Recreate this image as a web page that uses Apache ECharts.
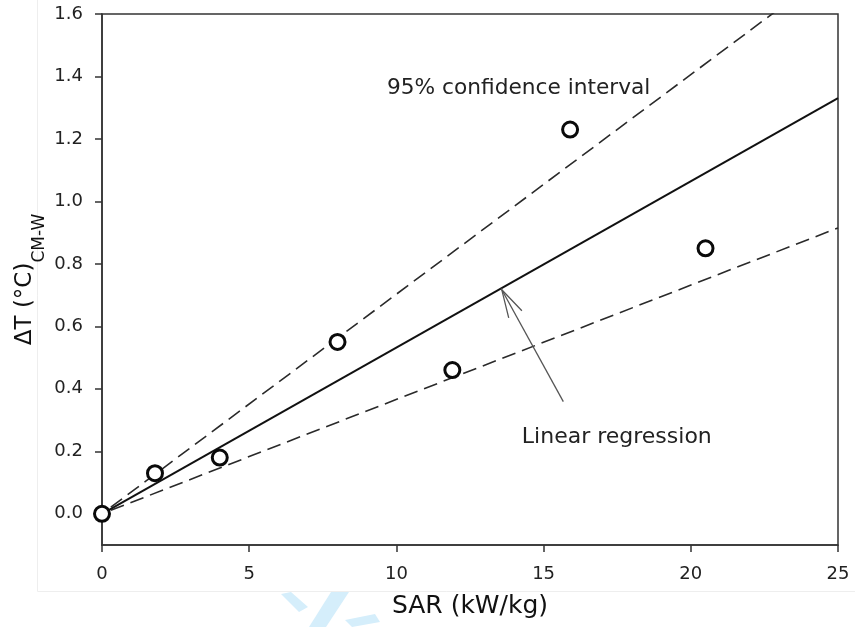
<!DOCTYPE html>
<html>
<head>
<meta charset="utf-8">
<title>SAR vs temperature rise</title>
<script src="https://cdn.jsdelivr.net/npm/echarts@6/dist/echarts.min.js"></script>
<style>
  html, body { margin: 0; padding: 0; background: #fff; }
  #chart { width: 855px; height: 627px; }
</style>
</head>
<body>
<div id="chart"></div>
<script>
// Measured points: SAR (kW/kg) and temperature difference (°C)
const sarValues = [0, 1.8, 4.0, 8.0, 11.9, 15.9, 20.5];
const deltaTValues = [0.0, 0.13, 0.18, 0.55, 0.46, 1.23, 0.85];

// Fitted line through the origin and its 95% confidence bounds (endpoints)
const regressionLine = [[0, 0], [25, 1.331]];
const upperBound = [[0.3, 0.021], [25, 1.7575]];
const lowerBound = [[0.3, 0.011], [25, 0.915]];

// Axis ticks
const xTicks = [0, 5, 10, 15, 20, 25];
const yTicks = [0.0, 0.2, 0.4, 0.6, 0.8, 1.0, 1.2, 1.4, 1.6];

const FONT = 'DejaVu Sans';
const INK = '#222';

const points = sarValues.map((x, i) => [x, deltaTValues[i]]);

const chart = echarts.init(document.getElementById('chart'));

chart.setOption({
  animation: false,
  backgroundColor: '#fff',
  textStyle: { fontFamily: FONT },
  grid: {
    left: 102, top: 14, right: 17, bottom: 82,
    show: true, borderColor: '#333', borderWidth: 1.5, backgroundColor: 'transparent'
  },
  xAxis: {
    type: 'value', min: 0, max: 25, interval: 5,
    axisLine: { show: true, onZero: false, lineStyle: { color: '#333', width: 1.5 } },
    axisTick: { show: true, inside: false, length: 7, lineStyle: { color: '#333', width: 1.5 }, customValues: xTicks },
    axisLabel: { fontSize: 18, color: '#222', margin: 20, fontFamily: FONT, customValues: xTicks },
    splitLine: { show: false },
    name: 'SAR (kW/kg)', nameLocation: 'middle', nameGap: 49, nameMoveOverlap: false,
    nameTextStyle: { fontSize: 25, color: '#111', fontFamily: FONT }
  },
  yAxis: {
    type: 'value', min: -0.1, max: 1.6,
    axisLine: { show: true, onZero: false, lineStyle: { color: '#333', width: 1.5 } },
    axisTick: { show: true, inside: false, length: 7, lineStyle: { color: '#333', width: 1.5 }, customValues: yTicks },
    axisLabel: {
      fontSize: 18, color: '#222', margin: 19, fontFamily: FONT,
      customValues: yTicks, formatter: v => v.toFixed(1)
    },
    splitLine: { show: false },
    name: '{a|ΔT (°C)}{b|CM-W}', nameLocation: 'middle', nameGap: 58, nameMoveOverlap: false,
    nameTextStyle: {
      color: '#111', fontFamily: FONT,
      rich: {
        a: { fontSize: 23, lineHeight: 30, verticalAlign: 'top', color: '#111', fontFamily: FONT },
        b: { fontSize: 17, lineHeight: 17, verticalAlign: 'top', padding: [17, 0, 0, 0], color: '#111', fontFamily: FONT }
      }
    }
  },
  series: [
    {
      name: 'Upper 95% bound', type: 'line', data: upperBound, symbol: 'none', clip: true,
      lineStyle: { color: '#2a2a2a', width: 1.6, type: [14, 7] }, z: 3
    },
    {
      name: 'Lower 95% bound', type: 'line', data: lowerBound, symbol: 'none', clip: true,
      lineStyle: { color: '#2a2a2a', width: 1.6, type: [14, 7] }, z: 3
    },
    {
      name: 'Linear regression', type: 'line', data: regressionLine, symbol: 'none', clip: true,
      lineStyle: { color: '#111', width: 2 }, z: 3
    },
    {
      name: 'Measured', type: 'scatter', data: points, symbol: 'circle', symbolSize: 15,
      itemStyle: { color: '#fff', borderColor: '#0a0a0a', borderWidth: 3, opacity: 1 }, z: 5
    }
  ]
});

// Text annotations and the pointer arrow, anchored in data coordinates
const ciNote = { text: '95% confidence interval', at: [9.68, 1.3616] };
const fitNote = { text: 'Linear regression', at: [14.26, 0.245] };
const arrowTip = [13.58, 0.717];
const arrowTail = [15.67, 0.359];

function px(p) { return chart.convertToPixel({ gridIndex: 0 }, p); }

const tip = px(arrowTip);
const tail = px(arrowTail);
const ang = Math.atan2(tail[1] - tip[1], tail[0] - tip[0]);
const headLen = 29, spread = 15 * Math.PI / 180;
const barb1 = [tip[0] + headLen * Math.cos(ang + spread), tip[1] + headLen * Math.sin(ang + spread)];
const barb2 = [tip[0] + headLen * Math.cos(ang - spread), tip[1] + headLen * Math.sin(ang - spread)];

const ciPos = px(ciNote.at);
const fitPos = px(fitNote.at);

const arrowStyle = { stroke: '#555', lineWidth: 1.3, fill: null };

chart.setOption({
  graphic: [
    // faint frame of the figure panel
    { type: 'line', shape: { x1: 37.5, y1: 0, x2: 37.5, y2: 591.5 }, style: { stroke: '#eeeeee', lineWidth: 1 }, silent: true, z: 0 },
    { type: 'line', shape: { x1: 37.5, y1: 591.5, x2: 855, y2: 591.5 }, style: { stroke: '#eeeeee', lineWidth: 1 }, silent: true, z: 0 },
    // light blue mark below the panel
    { type: 'polygon', shape: { points: [[281, 594], [291, 592], [308, 607], [299, 612]] }, style: { fill: '#d5eefb' }, silent: true, z: 0 },
    { type: 'polygon', shape: { points: [[331, 592], [349, 592], [326, 627], [309, 627]] }, style: { fill: '#d5eefb' }, silent: true, z: 0 },
    { type: 'polygon', shape: { points: [[345, 620], [375, 614], [380, 622], [352, 627]] }, style: { fill: '#d5eefb' }, silent: true, z: 0 },
    {
      type: 'text', x: ciPos[0], y: ciPos[1], z: 10,
      style: { text: ciNote.text, fontSize: 21.7, fontFamily: FONT, fill: INK, textAlign: 'left', textVerticalAlign: 'middle' }
    },
    {
      type: 'text', x: fitPos[0], y: fitPos[1], z: 10,
      style: { text: fitNote.text, fontSize: 22, fontFamily: FONT, fill: INK, textAlign: 'left', textVerticalAlign: 'middle' }
    },
    { type: 'line', shape: { x1: tail[0], y1: tail[1], x2: tip[0], y2: tip[1] }, style: arrowStyle, z: 10 },
    { type: 'polyline', shape: { points: [barb1, tip, barb2] }, style: arrowStyle, z: 10 }
  ]
});
</script>
</body>
</html>
